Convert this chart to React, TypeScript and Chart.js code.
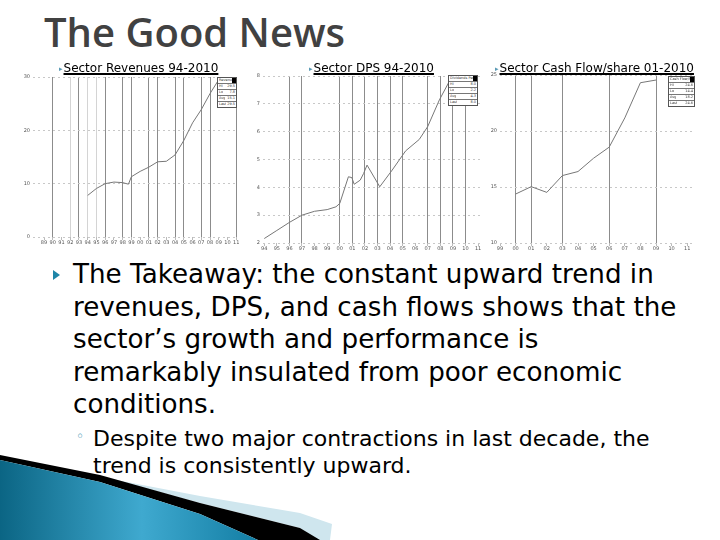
import React, { useEffect, useRef } from 'react';
import { Chart, registerables } from 'chart.js';
Chart.register(...registerables);

// ---------- Chart 1: Sector Revenues 94-2010 ----------
const revTickYears = [1989, 1990, 1991, 1992, 1993, 1994, 1995, 1996, 1997, 1998, 1999, 2000, 2001, 2002, 2003, 2004, 2005, 2006, 2007, 2008, 2009, 2010, 2011];
const revTickLabels = ['89', '90', '91', '92', '93', '94', '95', '96', '97', '98', '99', '00', '01', '02', '03', '04', '05', '06', '07', '08', '09', '10', '11'];
const revYears = [1994, 1995, 1996, 1997, 1998, 1998.66, 1999, 2000, 2001, 2002, 2003, 2004, 2005, 2006, 2007, 2008, 2009];
const revValues = [7.8, 9.1, 10.0, 10.3, 10.2, 9.9, 11.3, 12.3, 13.1, 14.1, 14.2, 15.4, 18.1, 21.4, 23.9, 26.9, 29.5];
const revYTicks = [0, 10, 20, 30];

// ---------- Chart 2: Sector DPS 94-2010 ----------
const dpsTickYears = [1994, 1995, 1996, 1997, 1998, 1999, 2000, 2001, 2002, 2003, 2004, 2005, 2006, 2007, 2008, 2009, 2010, 2011];
const dpsTickLabels = ['94', '95', '96', '97', '98', '99', '00', '01', '02', '03', '04', '05', '06', '07', '08', '09', '10', '11'];
const dpsYears = [1994, 1995, 1996, 1997, 1998, 1999, 1999.7, 2000, 2000.69, 2000.96, 2001.15, 2001.63, 2001.9, 2002.17, 2003.18, 2004.17, 2005.24, 2006.32, 2006.99, 2007.92, 2008.94];
const dpsValues = [2.16, 2.45, 2.74, 3.0, 3.14, 3.2, 3.3, 3.42, 4.38, 4.35, 4.11, 4.26, 4.5, 4.8, 4.02, 4.62, 5.31, 5.72, 6.18, 7.14, 8.0];
const dpsYTicks = [2, 3, 4, 5, 6, 7, 8];

// ---------- Chart 3: Sector Cash Flow/share 01-2010 ----------
const cfTickYears = [1999, 2000, 2001, 2002, 2003, 2004, 2005, 2006, 2007, 2008, 2009, 2010, 2011];
const cfTickLabels = ['99', '00', '01', '02', '03', '04', '05', '06', '07', '08', '09', '10', '11'];
const cfYears = [2000, 2001, 2002, 2003, 2004, 2005, 2006, 2007, 2008, 2009];
const cfValues = [14.37, 15.03, 14.52, 16.02, 16.38, 17.57, 18.56, 21.17, 24.31, 24.55];
const cfYTicks = [10, 15, 20, 25];

type Props = {
  left: number; top: number; width: number; height: number;
  padTop: number; padRight: number; yAxisW: number; xAxisH: number;
  xMin: number; xMax: number; yMin: number; yMax: number;
  tickYears: number[]; tickLabels: string[]; yTicks: number[];
  years: number[]; values: number[];
  darkLines: number[]; lightLines: number[];
};

function MiniLine(p: Props) {
  const ref = useRef<HTMLCanvasElement | null>(null);
  useEffect(() => {
    if (!ref.current) return;
    const chart = new Chart(ref.current, {
      type: 'line',
      data: {
        datasets: [{
          data: p.years.map((x, i) => ({ x, y: p.values[i] })),
          borderColor: '#777777',
          borderWidth: 1,
          pointRadius: 0,
          tension: 0,
          fill: false,
        }],
      },
      options: {
        animation: false,
        responsive: false,
        events: [],
        layout: { padding: { top: p.padTop, right: p.padRight, left: 0, bottom: 0 } },
        plugins: { legend: { display: false }, tooltip: { enabled: false } },
        scales: {
          x: {
            type: 'linear',
            min: p.xMin, max: p.xMax,
            afterBuildTicks: (axis: any) => { axis.ticks = p.tickYears.map((v) => ({ value: v })); },
            afterFit: (axis: any) => { axis.height = p.xAxisH; },
            border: { display: false },
            grid: {
              drawTicks: true,
              tickLength: 3,
              color: (ctx: any) => p.darkLines.includes(ctx.index) ? '#8c8c8c' : (p.lightLines.includes(ctx.index) ? '#d4d4d4' : 'rgba(0,0,0,0)'),
              tickColor: '#bbbbbb',
              lineWidth: 1,
            },
            ticks: {
              autoSkip: false, maxRotation: 0, minRotation: 0, padding: 0,
              color: '#555',
              font: { size: 5, family: 'DejaVu Sans' },
              callback: (v: any) => { const i = p.tickYears.indexOf(Number(v)); return i >= 0 ? p.tickLabels[i] : ''; },
            },
          },
          y: {
            type: 'linear',
            min: p.yMin, max: p.yMax,
            afterBuildTicks: (axis: any) => { axis.ticks = p.yTicks.map((v) => ({ value: v })); },
            afterFit: (axis: any) => { axis.width = p.yAxisW; },
            border: { display: false, dash: [2, 3] },
            grid: { drawTicks: false, color: '#c8c8c8', lineWidth: 1 },
            ticks: { padding: 3, color: '#555', font: { size: 5, family: 'DejaVu Sans' } },
          },
        },
      },
    } as any);
    return () => chart.destroy();
  }, []);
  return (
    <canvas ref={ref} width={p.width} height={p.height}
      style={{ position: 'absolute', left: p.left, top: p.top, width: p.width, height: p.height }} />
  );
}

function StatBox({ left, top, width, name, values }: { left: number; top: number; width: number; name: string; values: number[] }) {
  const hi = Math.max(...values);
  const lo = Math.min(...values);
  const avg = values.reduce((a, b) => a + b, 0) / values.length;
  const last = values[values.length - 1];
  const rows: [string, string][] = [[name, ''], ['Hi', hi.toFixed(1)], ['Lo', lo.toFixed(1)], ['Avg', avg.toFixed(1)], ['Last', last.toFixed(1)]];
  return (
    <div style={{ position: 'absolute', left, top, width, background: '#fff', border: '1px solid #555', fontFamily: 'DejaVu Sans', fontSize: 3.5, lineHeight: '5px', color: '#333' }}>
      {rows.map((r, i) => (
        <div key={i} style={{ display: 'flex', justifyContent: 'space-between', borderTop: i ? '1px solid #777' : 'none', paddingLeft: 1, height: 5, overflow: 'hidden' }}>
          <span style={{ whiteSpace: 'nowrap', overflow: 'hidden' }}>{r[0]}</span>
          <span style={{ background: i === 0 ? '#000' : 'transparent', minWidth: i === 0 ? 3 : 0, paddingRight: 1 }}>{r[1]}</span>
        </div>
      ))}
    </div>
  );
}

function ChartTitle({ left, top, text }: { left: number; top: number; text: string }) {
  return (
    <div style={{ position: 'absolute', left, top, whiteSpace: 'nowrap', fontFamily: 'DejaVu Sans', fontSize: 12, lineHeight: '14px', color: '#000' }}>
      <span style={{ color: '#5a9ab5', fontSize: 7, verticalAlign: 'middle', marginRight: 1 }}>▸</span>
      <span style={{ textDecoration: 'underline', textDecorationThickness: '2px', textUnderlineOffset: '1px' }}>{text}</span>
    </div>
  );
}

export default function App() {
  return (
    <div style={{ position: 'fixed', left: 0, top: 0, width: 720, height: 540, background: '#fff', overflow: 'hidden' }}>
      {/* bottom-left swoosh */}
      <svg width={720} height={540} style={{ position: 'absolute', left: 0, top: 0 }}>
        <defs>
          <linearGradient id="blueg" x1="0" y1="0" x2="1" y2="0">
            <stop offset="0" stopColor="#0b6584" />
            <stop offset="0.55" stopColor="#3fa9cf" />
            <stop offset="1" stopColor="#137ea4" />
          </linearGradient>
        </defs>
        <path d="M85,474 L200,496 L300,513 L332,524 L330,540 L318,540 L300,528 L200,503 L100,476 Z" fill="#cfe6ee" />
        <path d="M0,455 L100,475 L200,503 L300,528 L320,540 L258,540 L200,514 L100,482 L0,460 Z" fill="#000" />
        <path d="M0,460 L100,482 L200,514 L258,540 L0,540 Z" fill="url(#blueg)" />
      </svg>

      <div style={{ position: 'absolute', left: 44, top: 5, fontFamily: 'Open Sans', fontWeight: 600, fontSize: 40, color: '#414141', whiteSpace: 'nowrap', lineHeight: '54px' }}>The Good News</div>

      <MiniLine left={20} top={70} width={225} height={180} padTop={7} padRight={7} yAxisW={13} xAxisH={13}
        xMin={1987.74} xMax={2011.2} yMin={0} yMax={30}
        tickYears={revTickYears} tickLabels={revTickLabels} yTicks={revYTicks}
        years={revYears} values={revValues}
        darkLines={[1, 4, 7, 9, 10, 12, 13, 15, 16, 18, 19, 22]} lightLines={[3, 5, 6]} />
      <MiniLine left={250} top={68} width={235} height={185} padTop={8} padRight={5} yAxisW={13} xAxisH={10}
        xMin={1993.9} xMax={2011.15} yMin={2} yMax={8}
        tickYears={dpsTickYears} tickLabels={dpsTickLabels} yTicks={dpsYTicks}
        years={dpsYears} values={dpsValues}
        darkLines={[2, 3, 6, 7, 8, 9, 10, 11, 13, 14, 15, 16]} lightLines={[]} />
      <MiniLine left={485} top={68} width={230} height={184} padTop={7} padRight={20} yAxisW={15} xAxisH={9}
        xMin={1999} xMax={2011.5} yMin={10} yMax={25}
        tickYears={cfTickYears} tickLabels={cfTickLabels} yTicks={cfYTicks}
        years={cfYears} values={cfValues}
        darkLines={[1, 2, 4, 7, 10]} lightLines={[]} />

      <StatBox left={217} top={77} width={18} name="Revenue" values={revValues} />
      <StatBox left={448} top={75} width={28} name="Dividends Per Share" values={dpsValues} />
      <StatBox left={668} top={76} width={25} name="Cash Flow/Share" values={cfValues} />

      <ChartTitle left={59} top={61} text="Sector Revenues 94-2010" />
      <ChartTitle left={309} top={61} text="Sector DPS 94-2010" />
      <ChartTitle left={495} top={61} text="Sector Cash Flow/share 01-2010" />

      <svg width={10} height={12} style={{ position: 'absolute', left: 53, top: 270 }}>
        <path d="M0,0 L7,5 L0,10 Z" fill="#1f86a8" />
      </svg>
      <div style={{ position: 'absolute', left: 73, top: 258, fontFamily: 'DejaVu Sans', fontSize: 26.2, lineHeight: '32.5px', color: '#000', whiteSpace: 'nowrap' }}>
        The Takeaway: the constant upward trend in<br />
        revenues, DPS, and cash flows shows that the<br />
        sector’s growth and performance is<br />
        remarkably insulated from poor economic<br />
        conditions.
      </div>
      <div style={{ position: 'absolute', left: 76, top: 428, fontFamily: 'DejaVu Sans', fontSize: 14, color: '#1f86a8' }}>◦</div>
      <div style={{ position: 'absolute', left: 93, top: 425, fontFamily: 'DejaVu Sans', fontSize: 22, lineHeight: '27px', color: '#000', whiteSpace: 'nowrap' }}>
        Despite two major contractions in last decade, the<br />
        trend is consistently upward.
      </div>
    </div>
  );
}
